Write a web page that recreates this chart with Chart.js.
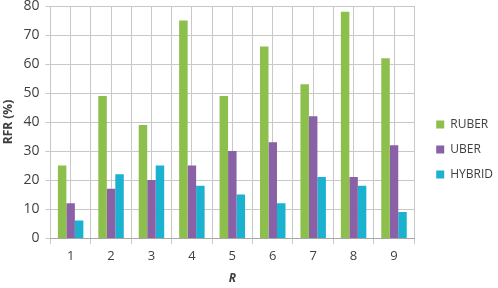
<!DOCTYPE html>
<html>
<head>
<meta charset="utf-8">
<script src="https://cdn.jsdelivr.net/npm/chart.js@4/dist/chart.umd.min.js"></script>
<style>
html,body{margin:0;padding:0;background:#fff;}
#wrap{width:498px;height:288px;position:relative;}
</style>
</head>
<body>
<div id="wrap"><canvas id="c" width="498" height="288"></canvas></div>
<script>
const categories = ['1','2','3','4','5','6','7','8','9'];
const ruber  = [25, 49, 39, 75, 49, 66, 53, 78, 62];
const uber   = [12, 17, 20, 25, 30, 33, 42, 21, 32];
const hybrid = [6, 22, 25, 18, 15, 12, 21, 18, 9];
const yTicks = [0, 10, 20, 30, 40, 50, 60, 70, 80];

const FONT = "'Open Sans', 'DejaVu Sans', sans-serif";

new Chart(document.getElementById('c'), {
  type: 'bar',
  data: {
    labels: categories,
    datasets: [
      {label: 'RUBER', data: ruber, backgroundColor: '#8cbf4b'},
      {label: 'UBER', data: uber, backgroundColor: '#8a60a6'},
      {label: 'HYBRID', data: hybrid, backgroundColor: '#1ab2cf'}
    ]
  },
  options: {
    responsive: false,
    animation: false,
    layout: {padding: {left: 1, right: -5, top: -8, bottom: 2}},
    datasets: {bar: {barPercentage: 1.0, categoryPercentage: 0.63}},
    plugins: {
      legend: {
        position: 'right',
        align: 'center',
        title: {display: true, text: ' ', font: {size: 10, lineHeight: 1}, padding: {top: 0, bottom: 11}},
        labels: {
          boxWidth: 8, boxHeight: 8, padding: 13,
          color: '#404040',
          font: {family: FONT, size: 12}
        }
      },
      tooltip: {enabled: false}
    },
    scales: {
      x: {
        offset: true,
        grid: {offset: true, color: '#c8c8c8', lineWidth: 1, tickLength: 6, drawTicks: true},
        border: {color: '#a6a6a6'},
        ticks: {color: '#404040', font: {family: FONT, size: 13}, padding: 4},
        title: {display: true, text: 'R', color: '#404040', padding: {top: 4, bottom: 0},
                font: {family: FONT, size: 12, weight: 'bold', style: 'italic'}}
      },
      x2: {
        type: 'category',
        labels: categories,
        position: 'top',
        offset: true,
        grid: {offset: false, color: '#c8c8c8', lineWidth: 1, drawTicks: false},
        border: {display: false},
        ticks: {display: false}
      },
      yGap: {
        type: 'linear',
        position: 'right',
        min: 0, max: 80,
        grid: {display: false, drawTicks: false},
        border: {display: false},
        ticks: {display: false},
        afterFit: (s) => { s.width = 9; }
      },
      y: {
        min: 0, max: 80,
        afterBuildTicks: (s) => { s.ticks = yTicks.map(v => ({value: v})); },
        grid: {color: '#c8c8c8', lineWidth: 1, tickLength: 5},
        border: {display: false},
        ticks: {color: '#404040', font: {family: FONT, size: 14, lineHeight: 0}, padding: 6},
        title: {display: true, text: 'RFR (%)', color: '#404040', padding: {top: 0, bottom: 2},
                font: {family: FONT, size: 12, weight: 'bold'}}
      }
    }
  }
});
</script>
</body>
</html>
